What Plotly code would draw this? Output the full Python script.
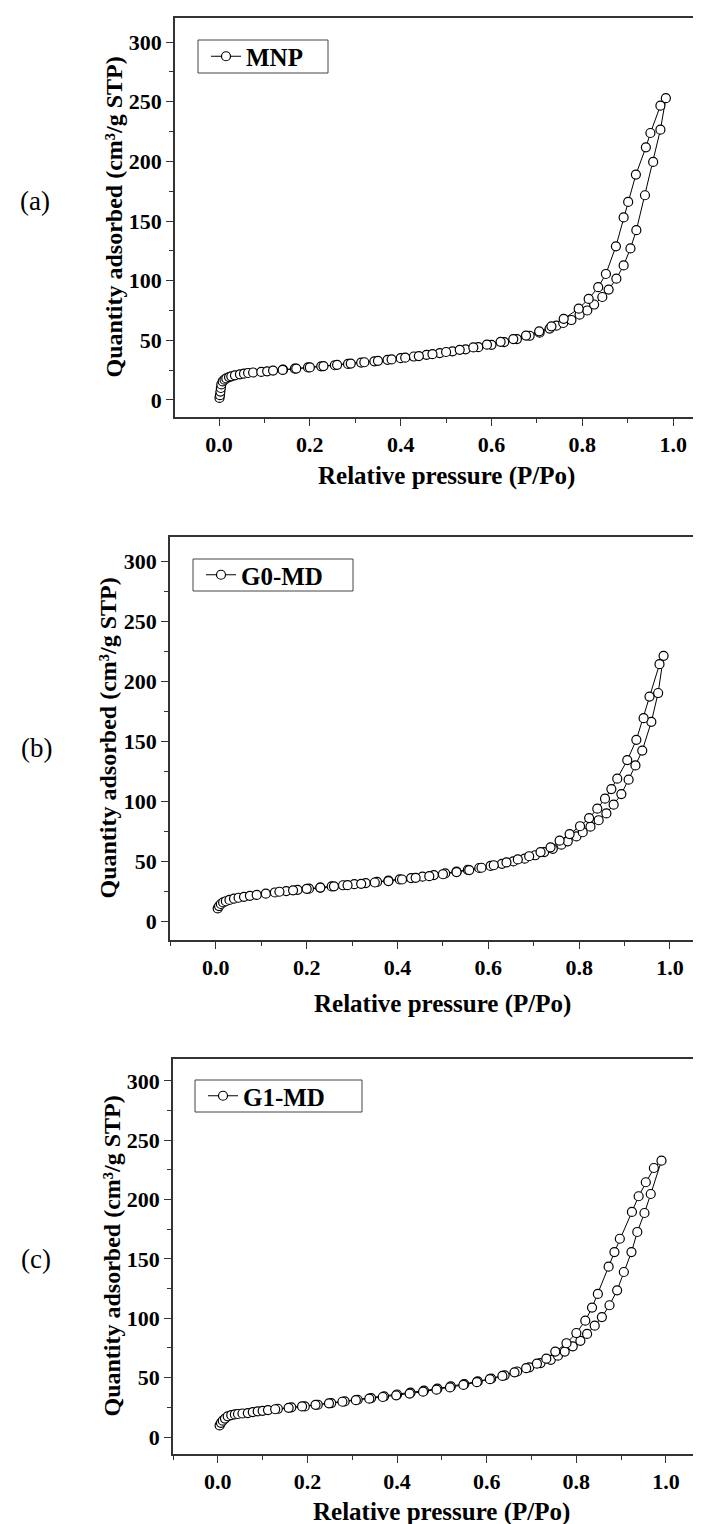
import plotly.graph_objects as go

W, H = 701, 1524
FONT = "Liberation Serif"

# ---------------- data ----------------
# (a) MNP
mnp_ads_x = [0.001, 0.002, 0.003, 0.004, 0.005, 0.008, 0.012, 0.016, 0.022, 0.027, 0.035, 0.046, 0.055, 0.064,
             0.075, 0.093, 0.106, 0.119, 0.141, 0.167, 0.196, 0.225, 0.255, 0.284, 0.313, 0.342, 0.371, 0.400,
             0.429, 0.457, 0.486, 0.514, 0.543, 0.571, 0.600, 0.628, 0.656, 0.684, 0.706, 0.728, 0.743, 0.758,
             0.776, 0.794, 0.811, 0.826, 0.844, 0.858, 0.875, 0.891, 0.906, 0.919, 0.938, 0.956, 0.972, 0.984]
mnp_ads_y = [1.7, 4, 7, 10, 13, 15.5, 17, 18, 19.2, 19.8, 20.6, 21.5, 22, 22.6,
             23, 23.5, 24, 24.6, 25.4, 26.2, 27.3, 28.2, 29.1, 30.2, 31.3, 32.4, 33.6, 35,
             36.4, 37.8, 39.3, 40.8, 42.4, 44.2, 46.2, 48.5, 51, 53.8, 56.4, 59.8, 62.3, 64.5,
             67, 71.5, 75, 80, 86.3, 92.5, 101.7, 112.8, 127, 142.3, 171.6, 199.5, 226.6, 253]
mnp_des_x = [0.972, 0.950, 0.940, 0.918, 0.901, 0.891, 0.874, 0.852, 0.835, 0.814, 0.792, 0.759, 0.732, 0.705,
             0.676, 0.648, 0.620, 0.590, 0.560, 0.530, 0.500, 0.470, 0.440, 0.410, 0.380, 0.350, 0.320, 0.290,
             0.260, 0.230, 0.200, 0.170, 0.140]
mnp_des_y = [246.7, 223.8, 211.8, 188.9, 166, 153, 128.8, 105.6, 94.5, 84.7, 76.5, 68, 61.7, 57.5,
             54, 51, 48.7, 46.3, 44, 42, 40.2, 38.4, 36.8, 35.4, 34, 32.8, 31.6, 30.5,
             29.4, 28.4, 27.3, 26.3, 25.2]

# (b) G0-MD
g0_ads_x = [0.004, 0.007, 0.011, 0.016, 0.022, 0.030, 0.040, 0.050, 0.062, 0.075, 0.090, 0.110, 0.130, 0.155,
            0.180, 0.205, 0.230, 0.255, 0.280, 0.305, 0.330, 0.355, 0.380, 0.405, 0.430, 0.455, 0.480, 0.505,
            0.530, 0.555, 0.580, 0.605, 0.630, 0.655, 0.680, 0.703, 0.723, 0.742, 0.761, 0.775, 0.794, 0.808,
            0.825, 0.843, 0.860, 0.876, 0.893, 0.909, 0.924, 0.939, 0.959, 0.974, 0.986]
g0_ads_y = [10.5, 12.5, 14.2, 15.5, 16.5, 17.6, 18.6, 19.4, 20.2, 21, 21.8, 22.8, 23.8, 25,
            26, 27, 27.9, 28.8, 29.8, 30.7, 31.6, 32.6, 33.6, 34.7, 35.8, 37, 38.3, 39.7,
            41.1, 42.6, 44.2, 45.9, 47.7, 49.7, 52, 54.8, 57.5, 60.2, 63.6, 66.4, 70.5, 74,
            78.6, 84, 89.7, 97, 105.8, 117.8, 129.7, 142, 166, 190, 221]
g0_des_x = [0.977, 0.955, 0.942, 0.926, 0.906, 0.884, 0.871, 0.857, 0.840, 0.822, 0.802, 0.779, 0.757, 0.737,
            0.715, 0.690, 0.665, 0.640, 0.612, 0.585, 0.558, 0.530, 0.500, 0.470, 0.440, 0.410, 0.380, 0.350,
            0.320, 0.290, 0.260, 0.230, 0.200, 0.170, 0.140]
g0_des_y = [214, 187, 169, 151, 134, 118.6, 110, 102, 93.6, 85.8, 79, 72.5, 67, 61.4,
            57.5, 54, 51.3, 48.8, 46.5, 44.4, 42.5, 40.8, 39, 37.4, 36, 34.6, 33.3, 32.1,
            31, 29.9, 28.9, 27.9, 26.8, 25.6, 24.4]

# (c) G1-MD
g1_ads_x = [0.004, 0.007, 0.011, 0.016, 0.022, 0.030, 0.038, 0.045, 0.055, 0.067, 0.078, 0.089, 0.100, 0.112,
            0.134, 0.164, 0.194, 0.223, 0.253, 0.283, 0.312, 0.342, 0.371, 0.400, 0.430, 0.460, 0.490, 0.520,
            0.550, 0.580, 0.610, 0.640, 0.668, 0.695, 0.720, 0.743, 0.759, 0.774, 0.792, 0.809, 0.824, 0.841,
            0.857, 0.874, 0.891, 0.906, 0.923, 0.936, 0.952, 0.966, 0.990]
g1_ads_y = [9.8, 12, 13.8, 15.5, 17.4, 18.4, 19, 19.4, 19.8, 20.2, 21, 21.6, 22.1, 22.7,
            23.8, 25, 25.8, 27.2, 28.6, 30, 31.4, 32.8, 34.3, 35.8, 37.4, 39.1, 40.8, 42.6,
            44.6, 46.8, 49.2, 52, 55.2, 58.7, 62.3, 65, 68.5, 72, 76.4, 81, 86.8, 93.8,
            101, 111, 123.6, 139, 155.8, 172.7, 188.7, 204.7, 232.8]
g1_des_x = [0.973, 0.955, 0.939, 0.924, 0.897, 0.885, 0.872, 0.848, 0.835, 0.820, 0.800, 0.778, 0.753, 0.733,
            0.712, 0.688, 0.662, 0.635, 0.607, 0.578, 0.548, 0.518, 0.488, 0.458, 0.428, 0.398, 0.368, 0.338,
            0.308, 0.278, 0.248, 0.218, 0.188, 0.158, 0.128]
g1_des_y = [226.6, 214.6, 202.8, 189.6, 167, 155.8, 143.5, 120.5, 109, 98, 87.6, 79, 72, 66,
            61.8, 58, 54.5, 51.5, 48.7, 46.2, 43.9, 41.8, 39.9, 38.2, 36.6, 35.1, 33.7, 32.3,
            31, 29.7, 28.4, 27.1, 25.8, 24.6, 23.4]

sample_names = ["MNP", "G0-MD", "G1-MD"]
panel_labels = ["(a)", "(b)", "(c)"]
x_title = "Relative pressure (P/Po)"
y_title = "Quantity adsorbed (cm³/g STP)"
x_tick_vals = [0.0, 0.2, 0.4, 0.6, 0.8, 1.0]
y_tick_vals = [0, 50, 100, 150, 200, 250, 300]

series = [
    (mnp_ads_x, mnp_ads_y, mnp_des_x, mnp_des_y),
    (g0_ads_x, g0_ads_y, g0_des_x, g0_des_y),
    (g1_ads_x, g1_ads_y, g1_des_x, g1_des_y),
]

# ---------------- layout geometry (pixels) ----------------
panels = [
    dict(left=167, top=10, bottom=409, xr=[-0.097, 1.079], yr=[-14.3, 320.2],
         box=(190, 32, 320, 65), ytx=105, lab=(27, 193), xty=468),
    dict(left=162, top=529, bottom=932, xr=[-0.101, 1.086], yr=[-15.8, 320],
         box=(185, 551, 345, 583), ytx=99, lab=(28, 740), xty=996),
    dict(left=165, top=1051, bottom=1446, xr=[-0.100, 1.096], yr=[-14.3, 318.4],
         box=(187, 1072, 354, 1104), ytx=103, lab=(28, 1251), xty=1504),
]

fig = go.Figure()
layout = dict(width=W, height=H, margin=dict(l=0, r=0, t=0, b=0),
              paper_bgcolor="white", plot_bgcolor="white",
              font=dict(family=FONT, color="black"), showlegend=True)
annotations = []
shapes = []

for i, (p, (ax, ay, dx, dy)) in enumerate(zip(panels, series)):
    n = "" if i == 0 else str(i + 1)
    leg = "legend" + n
    fig.add_trace(go.Scatter(
        x=ax + dx, y=ay + dy, mode="lines+markers", name=sample_names[i],
        xaxis="x" + n, yaxis="y" + n, legend=leg,
        line=dict(color="black", width=1),
        marker=dict(symbol="circle", size=9, color="white",
                    line=dict(color="black", width=1.2)),
    ))
    ydom = [1 - p["bottom"] / H, 1 - p["top"] / H]
    xdom = [p["left"] / W, 1.0]
    layout["xaxis" + n] = dict(
        domain=xdom, range=p["xr"], anchor="y" + n,
        showline=True, linecolor="#333", linewidth=1.5, mirror=True,
        ticks="outside", ticklen=7, tickwidth=1.3, tickcolor="#333",
        tickmode="array", tickvals=x_tick_vals, tickformat=".1f",
        minor=dict(ticks="outside", ticklen=4, tickwidth=1.1, tickcolor="#333",
                   tickmode="linear", tick0=0.1, dtick=0.2),
        showgrid=False, zeroline=False,
        tickfont=dict(family=FONT, size=22, weight="bold"),
    )
    layout["yaxis" + n] = dict(
        domain=ydom, range=p["yr"], anchor="x" + n,
        showline=True, linecolor="#333", linewidth=1.5, mirror=False,
        ticks="outside", ticklen=7, tickwidth=1.3, tickcolor="#333",
        tickmode="array", tickvals=y_tick_vals,
        minor=dict(ticks="outside", ticklen=4, tickwidth=1.1, tickcolor="#333",
                   tickmode="linear", tick0=25, dtick=50),
        showgrid=False, zeroline=False,
        tickfont=dict(family=FONT, size=22, weight="bold"),
    )
    bx0, by0, bx1, by1 = p["box"]
    # legend frame
    shapes.append(dict(type="rect", xref="paper", yref="paper",
                       x0=bx0 / W, x1=bx1 / W, y0=1 - by1 / H, y1=1 - by0 / H,
                       line=dict(color="#444", width=1), fillcolor="white", layer="above"))
    layout[leg] = dict(
        x=(bx0 + 8) / W, y=1 - (by0 + by1) / 2 / H, xanchor="left", yanchor="middle",
        borderwidth=0, bgcolor="rgba(0,0,0,0)",
        font=dict(family=FONT, size=25, weight="bold"),
        itemwidth=30, tracegroupgap=0,
    )
    # y title
    annotations.append(dict(
        text=y_title, textangle=-90, xref="paper", yref="paper",
        x=p["ytx"] / W, y=1 - (p["top"] + p["bottom"]) / 2 / H,
        xanchor="center", yanchor="middle", showarrow=False,
        font=dict(family=FONT, size=24, weight="bold"),
    ))
    # x title
    x0 = p["left"] + (0 - p["xr"][0]) / (p["xr"][1] - p["xr"][0]) * (W - p["left"])
    x1 = p["left"] + (1 - p["xr"][0]) / (p["xr"][1] - p["xr"][0]) * (W - p["left"])
    annotations.append(dict(
        text=x_title, xref="paper", yref="paper",
        x=(x0 + x1) / 2 / W, y=1 - p["xty"] / H,
        xanchor="center", yanchor="middle", showarrow=False,
        font=dict(family=FONT, size=25, weight="bold"),
    ))
    # panel label
    annotations.append(dict(
        text=panel_labels[i], xref="paper", yref="paper",
        x=p["lab"][0] / W, y=1 - p["lab"][1] / H,
        xanchor="center", yanchor="middle", showarrow=False,
        font=dict(family=FONT, size=27),
    ))

layout["annotations"] = annotations
layout["shapes"] = shapes
fig.update_layout(**layout)
fig.write_html("out.html")
